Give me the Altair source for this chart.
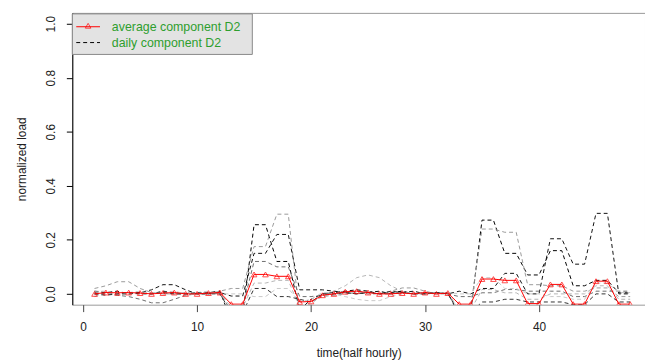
import altair as alt
import pandas as pd

t = list(range(1, 49))

avg = [0.0, 0.005, 0.004, 0.005, 0.003, 0.0, 0.003, 0.005, 0.0, 0.0, 0.003, 0.005,
       -0.038, -0.038,
       0.072, 0.072, 0.065, 0.065,
       -0.03, -0.028,
       -0.005, 0.0, 0.008, 0.01, 0.005, 0.0, 0.0, 0.003, 0.0, 0.005, 0.0, 0.003,
       -0.038, -0.038,
       0.055, 0.055, 0.05, 0.05,
       -0.036, -0.036,
       0.035, 0.035,
       -0.038, -0.038,
       0.047, 0.047,
       -0.038, -0.038]

day_a = [0.01, 0.005, 0.0, 0.0, 0.005, 0.0, 0.01, 0.005, 0.0, 0.0, 0.005, 0.01,
         -0.1, -0.08, 0.256, 0.256, 0.12, 0.12, -0.06, -0.02,
         0.0, 0.005, 0.01, 0.015, 0.01, 0.0, 0.005, 0.01, 0.0, 0.005, 0.0, 0.005,
         -0.08, -0.07, 0.273, 0.273, 0.15, 0.15, 0.07, 0.07,
         0.16, 0.16, 0.03, 0.03, 0.05, 0.05, 0.004, 0.004]
day_b = [0.02, 0.03, 0.045, 0.045, 0.02, 0.005, 0.0, 0.0, 0.005, 0.0, 0.0, 0.01,
         0.02, 0.02, 0.175, 0.175, 0.295, 0.295, -0.08, -0.03,
         -0.01, -0.005, 0.0, 0.005, 0.0, 0.0, 0.01, 0.022, 0.022, 0.01, 0.0, 0.0,
         -0.06, -0.05, 0.24, 0.24, 0.228, 0.228, 0.034, 0.034,
         0.03, 0.03, 0.01, 0.01, 0.022, 0.022, -0.01, -0.01]
day_c = [0.0, 0.005, 0.01, 0.0, 0.005, 0.015, 0.034, 0.034, 0.015, 0.0, 0.0, 0.005,
         -0.008, -0.008, 0.15, 0.15, 0.22, 0.22, 0.015, 0.015,
         0.015, 0.01, 0.005, 0.0, 0.005, 0.01, 0.0, 0.005, 0.01, 0.0, 0.005, 0.0,
         0.01, 0.0, 0.02, 0.02, 0.076, 0.076, 0.0, 0.0,
         0.204, 0.204, 0.11, 0.11, 0.298, 0.298, 0.0, 0.0]
day_d = [0.005, 0.0, -0.005, -0.01, -0.02, -0.033, -0.033, -0.02, -0.005, 0.0, 0.005, 0.0,
         -0.06, -0.05, 0.12, 0.12, 0.10, 0.10, -0.01, -0.01,
         -0.005, 0.0, 0.005, 0.01, 0.005, 0.0, 0.0, 0.005, 0.0, 0.0, 0.005, 0.0,
         -0.01, -0.01, 0.004, 0.004, 0.016, 0.016, 0.01, 0.01,
         0.01, 0.01, -0.01, -0.01, 0.01, 0.01, 0.01, 0.01]
day_e = [-0.01, 0.0, 0.005, 0.0, 0.0, 0.005, 0.0, 0.0, -0.005, 0.0, 0.0, 0.005,
         -0.05, -0.05, 0.04, 0.04, 0.05, 0.05, -0.05, -0.04,
         0.0, 0.01, 0.03, 0.06, 0.07, 0.06, 0.03, 0.01, 0.0, 0.005, 0.0, 0.005,
         -0.06, -0.06, 0.016, 0.016, 0.004, 0.004, -0.02, -0.02,
         0.0, 0.0, 0.0, 0.0, 0.03, 0.03, -0.02, -0.02]
day_f = [0.01, 0.01, 0.0, 0.005, 0.01, 0.0, 0.005, 0.01, 0.0, 0.005, 0.01, 0.0,
         0.0, 0.0, -0.01, -0.01, 0.02, 0.02, -0.03, -0.02,
         0.005, 0.0, -0.01, -0.02, -0.025, -0.025, -0.01, 0.0, 0.005, 0.0, 0.0, 0.005,
         0.0, 0.0, 0.06, 0.06, 0.02, 0.02, 0.0, 0.0,
         -0.01, -0.01, -0.02, -0.02, 0.04, 0.04, 0.005, 0.005]
day_g = [0.0, -0.005, 0.0, 0.005, 0.0, 0.0, 0.005, 0.0, 0.0, 0.005, 0.0, 0.0,
         -0.07, -0.07, 0.02, 0.02, -0.01, -0.01, -0.02, -0.03,
         0.0, 0.0, 0.005, 0.0, 0.005, 0.0, 0.01, 0.005, 0.0, 0.0, 0.005, 0.0,
         -0.07, -0.07, -0.03, -0.03, -0.02, -0.02, -0.03, -0.03,
         -0.03, -0.03, -0.04, -0.04, 0.0, 0.0, -0.03, -0.03]

day_names = ["A", "B", "C", "D", "E", "F", "G"]
day_values = [day_a, day_b, day_c, day_d, day_e, day_f, day_g]
day_colors = ["#000000", "#9a9a9a", "#111111", "#6e6e6e", "#b5b5b5", "#c8c8c8", "#333333"]

x_ticks = [0, 10, 20, 30, 40]
y_ticks = [0.0, 0.2, 0.4, 0.6, 0.8, 1.0]
legend_labels = ["average component D2", "daily component D2"]

rows = []
for name, vals in zip(day_names, day_values):
    for ti, v in zip(t, vals):
        rows.append({"t": ti, "v": v, "day": name})
df_daily = pd.DataFrame(rows)
df_avg = pd.DataFrame({"t": t, "v": avg})
one = pd.DataFrame({"a": [0]})

xscale = alt.Scale(domain=[-0.95, 49.3], nice=False, zero=False)
yscale = alt.Scale(domain=[-0.04, 1.04], nice=False, zero=False)

W, H = 579, 295

x_axis = alt.Axis(values=x_ticks, title="time(half hourly)", grid=False, domain=False,
                  tickSize=7, tickColor="#444444", labelFontSize=12, labelPadding=10,
                  labelColor="#222222", titleFontSize=12, titleFontWeight="normal",
                  titleColor="#222222", titleY=48, titleBaseline="middle", titleX=W / 2)
y_axis = alt.Axis(values=y_ticks, format=".1f", title="normalized load", grid=False,
                  domain=True, domainColor="#000000", tickColor="#000000", tickSize=6,
                  labelAngle=270, labelAlign="center", labelBaseline="bottom",
                  labelPadding=9, labelFontSize=12, labelColor="#222222",
                  titleFontSize=12, titleFontWeight="normal", titleColor="#222222",
                  titleAngle=270, titleX=-51, titleY=H / 2, titleAlign="center",
                  titleBaseline="middle")

daily_lines = alt.Chart(df_daily).mark_line(strokeDash=[4, 3], strokeWidth=1, clip=True).encode(
    x=alt.X("t:Q", scale=xscale, axis=x_axis),
    y=alt.Y("v:Q", scale=yscale, axis=y_axis),
    color=alt.Color("day:N", scale=alt.Scale(domain=day_names, range=day_colors), legend=None),
    detail="day:N",
)

avg_line = alt.Chart(df_avg).mark_line(color="#ff0000", strokeWidth=1, clip=True).encode(
    x=alt.X("t:Q", scale=xscale), y=alt.Y("v:Q", scale=yscale))
avg_pts = alt.Chart(df_avg).mark_point(shape="triangle-up", color="#ff0000", size=32,
                                       filled=False, strokeWidth=1, clip=True).encode(
    x=alt.X("t:Q", scale=xscale), y=alt.Y("v:Q", scale=yscale))

leg_box = alt.Chart(one).mark_rect(fill="#e3e3e3", stroke="#888888", strokeWidth=1).encode(
    x=alt.value(0), x2=alt.value(182), y=alt.value(1), y2=alt.value(42))
leg_red = alt.Chart(one).mark_rule(color="#ff0000", strokeWidth=1).encode(
    x=alt.value(4), x2=alt.value(28), y=alt.value(14))
leg_tri = alt.Chart(one).mark_point(shape="triangle-up", color="#ff0000", size=32,
                                    filled=False, strokeWidth=1).encode(
    x=alt.value(16), y=alt.value(13))
leg_dash = alt.Chart(one).mark_rule(color="#000000", strokeWidth=1, strokeDash=[4, 3]).encode(
    x=alt.value(4), x2=alt.value(28), y=alt.value(30))
leg_t1 = alt.Chart(one).mark_text(align="left", baseline="middle", fontSize=12.5,
                                  color="#2e9e2e").encode(
    x=alt.value(40), y=alt.value(14), text=alt.value(legend_labels[0]))
leg_t2 = alt.Chart(one).mark_text(align="left", baseline="middle", fontSize=12.5,
                                  color="#2e9e2e").encode(
    x=alt.value(40), y=alt.value(30), text=alt.value(legend_labels[1]))

chart = alt.layer(daily_lines, avg_line, avg_pts, leg_box, leg_red, leg_tri, leg_dash,
                  leg_t1, leg_t2).properties(
    width=W, height=H,
    autosize=alt.AutoSizeParams(type="none"),
    padding={"left": 65, "top": 3, "right": 0, "bottom": 56},
).configure(font="Liberation Sans").configure_view(stroke="#999999", strokeWidth=1)

chart.save("out.html", embed_options={"renderer": "svg", "actions": False})
